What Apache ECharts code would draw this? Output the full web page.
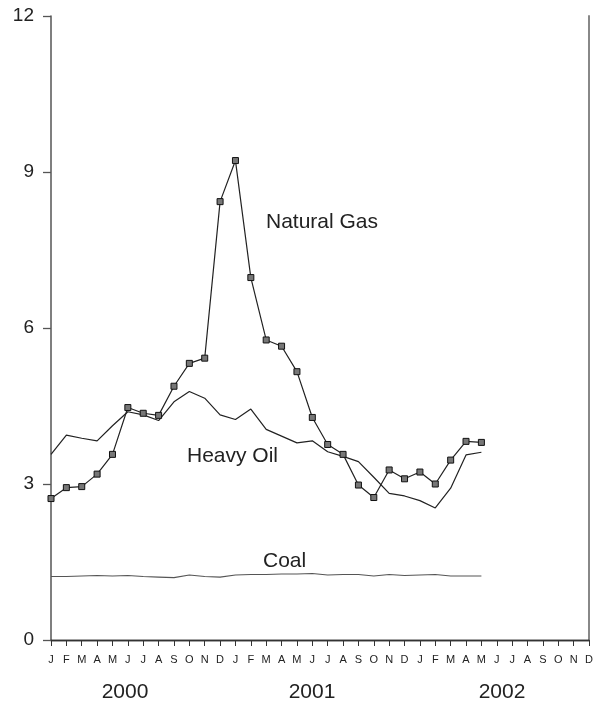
<!DOCTYPE html>
<html>
<head>
<meta charset="utf-8">
<script src="https://cdn.jsdelivr.net/npm/echarts@6/dist/echarts.min.js"></script>
<style>html,body{margin:0;padding:0;background:#fff}#c{width:603px;height:702px}</style>
</head>
<body>
<div id="c"></div>
<script>
const months = ['J','F','M','A','M','J','J','A','S','O','N','D','J','F','M','A','M','J','J','A','S','O','N','D','J','F','M','A','M','J','J','A','S','O','N','D'];
const years = ['2000','2001','2002'];
const naturalGas = [2.72,2.93,2.95,3.19,3.57,4.47,4.36,4.32,4.88,5.32,5.42,8.43,9.22,6.97,5.77,5.65,5.16,4.28,3.76,3.57,2.98,2.74,3.27,3.10,3.23,3.00,3.46,3.82,3.80];
const heavyOil = [3.57,3.94,3.88,3.83,4.12,4.39,4.33,4.22,4.58,4.78,4.65,4.33,4.24,4.44,4.05,3.92,3.79,3.83,3.62,3.53,3.43,3.13,2.82,2.77,2.68,2.54,2.92,3.56,3.61];
const coal = [1.22,1.22,1.23,1.24,1.23,1.24,1.22,1.21,1.20,1.25,1.22,1.21,1.25,1.26,1.26,1.27,1.27,1.28,1.25,1.26,1.26,1.23,1.26,1.24,1.25,1.26,1.23,1.23,1.23];
const seriesNames = ['Natural Gas','Heavy Oil','Coal'];

const chart = echarts.init(document.getElementById('c'), null, {renderer:'canvas'});
const font = 'Arial, "Liberation Sans", Helvetica, sans-serif';
chart.setOption({
  animation: false,
  backgroundColor: '#fff',
  grid: {left: 51, right: 14, top: 16, bottom: 62, containLabel: false},
  xAxis: [{
    type: 'category', data: months, boundaryGap: false, position: 'bottom',
    axisLine: {lineStyle: {color: '#333', width: 1.3}},
    axisTick: {show: true, inside: false, length: 6, interval: 0, lineStyle: {color: '#333'}},
    axisLabel: {interval: 0, color: '#222', fontSize: 11, fontFamily: font, margin: 14},
    splitLine: {show: false}
  }, {
    type: 'category', data: months, boundaryGap: false, position: 'top',
    axisLine: {lineStyle: {color: '#333', width: 1.3}},
    axisTick: {show: false}, axisLabel: {show: false}, splitLine: {show: false}
  }],
  yAxis: [{
    type: 'value', min: 0, max: 12, interval: 3, position: 'left',
    axisLine: {show: true, lineStyle: {color: '#555', width: 1.5}},
    axisTick: {show: true, inside: false, length: 8, lineStyle: {color: '#555', width: 1.3}},
    axisLabel: {color: '#222', fontSize: 19, fontFamily: font, margin: 17},
    splitLine: {show: false}
  }, {
    type: 'value', min: 0, max: 12, interval: 3, position: 'right',
    axisLine: {show: true, lineStyle: {color: '#888', width: 2}},
    axisTick: {show: false}, axisLabel: {show: false}, splitLine: {show: false}
  }],
  series: [{
    name: seriesNames[0], type: 'line', data: naturalGas,
    symbol: 'rect', symbolSize: 6, showAllSymbol: true,
    lineStyle: {color: '#222', width: 1.2},
    itemStyle: {color: '#777', borderColor: '#111', borderWidth: 1},
    z: 3
  }, {
    name: seriesNames[1], type: 'line', data: heavyOil, showSymbol: false, symbol: 'none',
    lineStyle: {color: '#222', width: 1.2}, z: 2
  }, {
    name: seriesNames[2], type: 'line', data: coal, showSymbol: false, symbol: 'none',
    lineStyle: {color: '#555', width: 1.1}, z: 2
  }],
  graphic: [
    {type: 'text', left: 266, top: 212, style: {text: seriesNames[0], font: '21px ' + font, fill: '#222'}},
    {type: 'text', left: 187, top: 446, style: {text: seriesNames[1], font: '21px ' + font, fill: '#222'}},
    {type: 'text', left: 263, top: 551, style: {text: seriesNames[2], font: '21px ' + font, fill: '#222'}},
    {type: 'text', x: 125, y: 692, style: {text: years[0], font: '21px ' + font, fill: '#222', align: 'center', verticalAlign: 'middle'}},
    {type: 'text', x: 312, y: 692, style: {text: years[1], font: '21px ' + font, fill: '#222', align: 'center', verticalAlign: 'middle'}},
    {type: 'text', x: 502, y: 692, style: {text: years[2], font: '21px ' + font, fill: '#222', align: 'center', verticalAlign: 'middle'}}
  ]
});
</script>
</body>
</html>
